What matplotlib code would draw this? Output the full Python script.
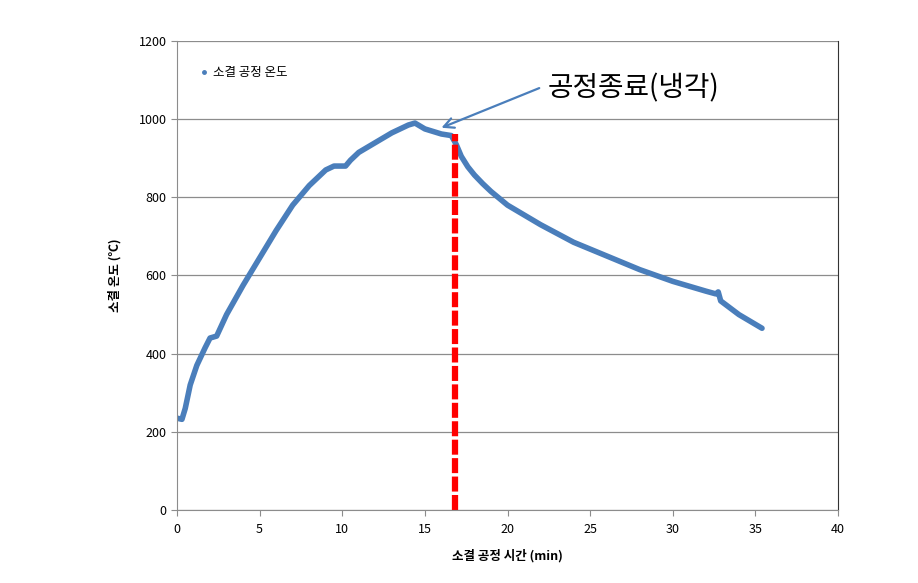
import numpy as np
import matplotlib
matplotlib.use("Agg")
import matplotlib.pyplot as plt

plt.rcParams['font.family'] = ['Noto Sans CJK KR', 'DejaVu Sans']

# sintering temperature curve
time_min = [0.0, 0.3, 0.5, 0.8, 1.2, 1.7, 2.0, 2.4, 3.0, 4.0, 5.0, 6.0, 7.0, 8.0, 9.0, 9.5,
            10.2, 10.5, 11.0, 12.0, 13.0, 14.0, 14.4, 15.0, 16.0, 16.6, 16.9, 17.2, 17.6, 18.0,
            18.5, 19.0, 20.0, 22.0, 24.0, 26.0, 28.0, 30.0, 32.0, 32.6, 32.75, 32.9, 34.0, 35.0, 35.4]
temp_c = [235, 232, 260, 320, 370, 415, 440, 445, 500, 575, 645, 715, 780, 830, 870, 880,
          880, 895, 915, 940, 965, 985, 990, 975, 962, 958, 935, 905, 878, 857,
          835, 815, 780, 730, 685, 650, 615, 585, 560, 553, 558, 535, 500, 475, 465]

end_time = 16.8
end_temp = 962

fig = plt.figure(figsize=(9.18, 5.83), dpi=100)
ax = fig.add_axes([0.1928, 0.1252, 0.7201, 0.8045])

color = '#4a7ebb'
ax.plot(time_min, temp_c, color=color, lw=4, label='소결 공정 온도',
        solid_capstyle='round', solid_joinstyle='round')
ax.plot([end_time, end_time], [0, end_temp], color='#ff0000', lw=4.5, ls=(0, (2.4, 0.55)))

ax.annotate('공정종료(냉각)', xy=(16.0, 978), xytext=(22.4, 1080),
            fontsize=20, va='center', ha='left',
            arrowprops=dict(arrowstyle='->', color=color, lw=1.6, shrinkA=4, shrinkB=0,
                            mutation_scale=18, relpos=(0, 0.6)))

ax.set_xlim(0, 40)
ax.set_ylim(0, 1200)
ax.set_xticks(np.arange(0, 41, 5))
ax.set_yticks(np.arange(0, 1201, 200))
ax.yaxis.grid(True, color='#8c8c8c', lw=0.9)
ax.set_axisbelow(True)
for s in ['left', 'bottom', 'top']:
    ax.spines[s].set_color('#8c8c8c')
ax.spines['top'].set_visible(False)
ax.spines['right'].set_color('#333333')
ax.tick_params(axis='both', labelsize=9, color='#8c8c8c', length=4)
ax.tick_params(axis='x', pad=5)

ax.set_xlabel('소결 공정 시간 (min)', fontsize=9, fontweight='bold', labelpad=10)
ax.set_ylabel('소결 온도 (℃)', fontsize=9, fontweight='bold', labelpad=12)

leg = ax.legend(loc='upper left', bbox_to_anchor=(0.02, 0.97), frameon=False, fontsize=9,
                handlelength=0.4, handletextpad=0.5)
for h in leg.legend_handles:
    h.set_linestyle('none')
    h.set_marker('o')
    h.set_markersize(2.5)
    h.set_color(color)

fig.savefig('out.png', dpi=100)
